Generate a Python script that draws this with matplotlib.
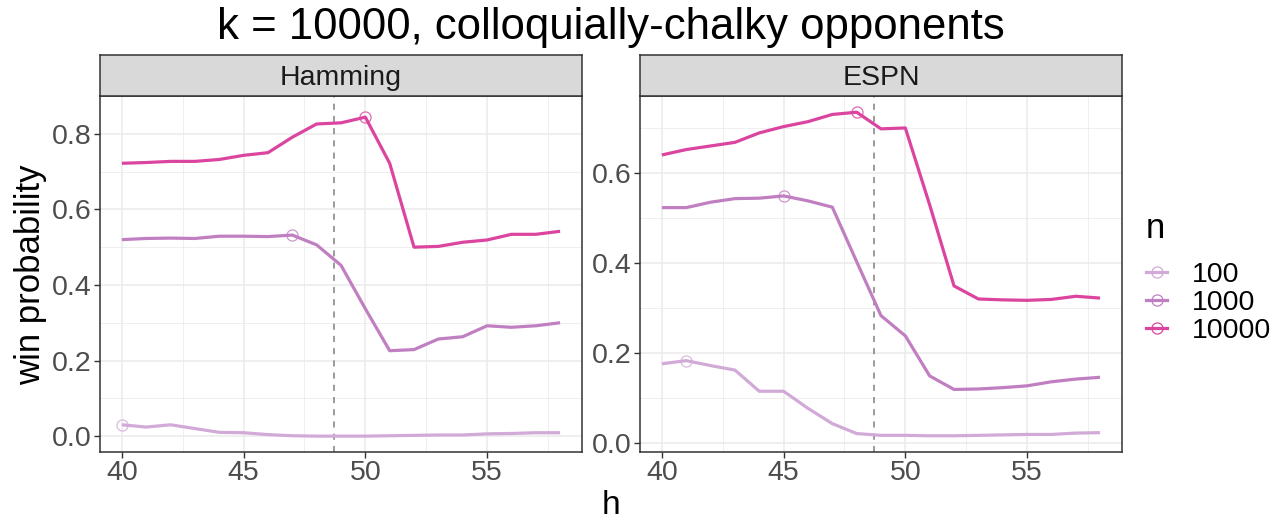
import matplotlib
matplotlib.use("Agg")
import matplotlib.pyplot as plt
from matplotlib.lines import Line2D
import numpy as np

plt.rcParams["font.family"] = ["Liberation Sans", "DejaVu Sans"]

# data
h = list(range(40, 59))
n_levels = ["100", "1000", "10000"]
colors = {"100": "#d2aad7", "1000": "#c07fc1", "10000": "#db45a0"}

hamming_100 = [0.030, 0.024, 0.030, 0.020, 0.010, 0.009, 0.004, 0.001, 0.000, 0.000,
               0.000, 0.001, 0.002, 0.003, 0.003, 0.006, 0.007, 0.009, 0.009]
hamming_1000 = [0.520, 0.523, 0.524, 0.523, 0.529, 0.529, 0.528, 0.532, 0.506, 0.452,
                0.337, 0.226, 0.229, 0.257, 0.263, 0.292, 0.288, 0.292, 0.300]
hamming_10000 = [0.722, 0.724, 0.727, 0.727, 0.732, 0.743, 0.750, 0.791, 0.826, 0.829,
                 0.844, 0.722, 0.500, 0.502, 0.513, 0.519, 0.534, 0.534, 0.542]

espn_100 = [0.177, 0.184, 0.173, 0.163, 0.116, 0.116, 0.078, 0.044, 0.022, 0.018,
            0.018, 0.017, 0.017, 0.018, 0.019, 0.020, 0.020, 0.023, 0.024]
espn_1000 = [0.524, 0.524, 0.536, 0.544, 0.545, 0.550, 0.539, 0.525, 0.404, 0.284,
             0.239, 0.150, 0.120, 0.121, 0.124, 0.128, 0.137, 0.143, 0.147]
espn_10000 = [0.641, 0.653, 0.661, 0.669, 0.690, 0.704, 0.715, 0.731, 0.736, 0.699,
              0.701, 0.530, 0.350, 0.321, 0.319, 0.318, 0.320, 0.327, 0.323]

panels = [
    ("Hamming", {"100": hamming_100, "1000": hamming_1000, "10000": hamming_10000},
     (-0.042, 0.895), [0.0, 0.2, 0.4, 0.6, 0.8]),
    ("ESPN", {"100": espn_100, "1000": espn_1000, "10000": espn_10000},
     (-0.019, 0.772), [0.0, 0.2, 0.4, 0.6]),
]
vline_h = 48.7

W, H = 1283, 519
fig = plt.figure(figsize=(W / 100, H / 100), dpi=100)


def px_axes(x0, y0, x1, y1):
    # pixel box (top-left origin) -> figure axes
    return fig.add_axes([x0 / W, (H - y1) / H, (x1 - x0) / W, (y1 - y0) / H])


for (name, series, ylim, yticks), x0 in zip(panels, [100, 640]):
    ax = px_axes(x0, 96, x0 + 482, 452)
    ax.set_xlim(39.1, 58.9)
    ax.set_ylim(*ylim)
    ax.set_xticks([40, 45, 50, 55])
    ax.set_xticks([42.5, 47.5, 52.5, 57.5], minor=True)
    ax.set_yticks(yticks)
    ax.set_yticklabels([f"{v:.1f}" for v in yticks])
    ax.set_yticks([v + 0.1 for v in yticks], minor=True)
    ax.grid(which="major", color="#ebebeb", linewidth=1.1)
    ax.grid(which="minor", color="#ebebeb", linewidth=0.55)
    ax.set_axisbelow(True)
    ax.tick_params(which="major", length=4, width=1, color="#333333",
                   labelsize=20.5, labelcolor="#4d4d4d", pad=2)
    ax.tick_params(which="minor", length=0)
    for sp in ax.spines.values():
        sp.set_color("#333333")
        sp.set_linewidth(1.1)
    ax.axvline(vline_h, color="#808080", linestyle=(0, (4, 4)), linewidth=1.1, zorder=1)
    for lvl in n_levels:
        vals = series[lvl]
        ax.plot(h, vals, color=colors[lvl], linewidth=2.3, solid_capstyle="butt", zorder=3)
        i = int(np.argmax(vals))
        ax.plot(h[i], vals[i], marker="o", markersize=8, markerfacecolor="none",
                markeredgecolor=colors[lvl], markeredgewidth=0.9, alpha=0.8, zorder=4)

    strip = px_axes(x0, 55, x0 + 482, 96)
    strip.set_facecolor("#d9d9d9")
    strip.set_xticks([])
    strip.set_yticks([])
    for sp in strip.spines.values():
        sp.set_color("#333333")
        sp.set_linewidth(1.1)
    strip.text(0.5, 0.45, name, ha="center", va="center", fontsize=20.5,
               color="#1a1a1a", transform=strip.transAxes)

fig.text(611 / W, 1 - 28 / H, "k = 10000, colloquially-chalky opponents",
         ha="center", va="center", fontsize=31.5)
fig.text(611 / W, 1 - 506 / H, "h", ha="center", va="center", fontsize=24)
fig.text(31 / W, 1 - 275 / H, "win probability", ha="center", va="center",
         rotation=90, fontsize=25)

# legend: title drawn separately to get ggplot's gap under it
fig.text(1146 / W, 1 - 229 / H, "n", ha="left", va="center", fontsize=25)
handles = [Line2D([0], [0], color=colors[l], linewidth=2.3, marker="o", markersize=8,
                  markerfacecolor="none", markeredgewidth=0.9) for l in n_levels]
leg = fig.legend(handles, n_levels, loc="upper left",
                 bbox_to_anchor=(1146 / W, 1 - 262 / H), frameon=False,
                 fontsize=20.5, handlelength=0.75,
                 labelspacing=0.07, handletextpad=0.85, borderaxespad=0,
                 borderpad=0)

fig.savefig("out.png", dpi=100)
